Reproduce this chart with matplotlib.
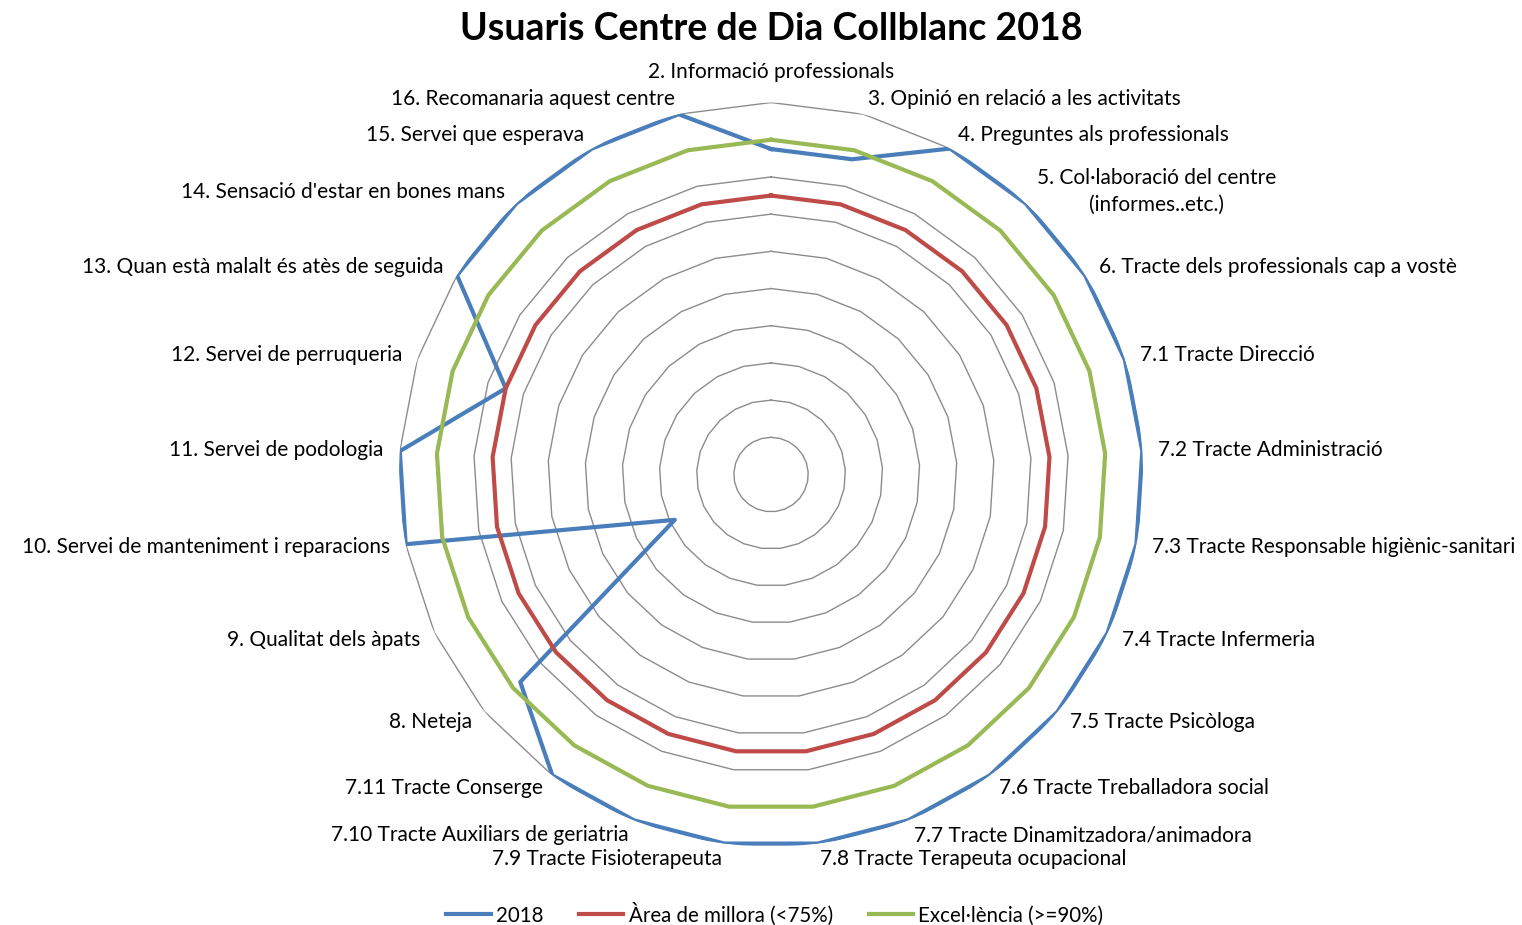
import matplotlib
matplotlib.use("Agg")
import matplotlib.pyplot as plt
import numpy as np

plt.rcParams['font.family'] = ['Lato', 'DejaVu Sans']

categories = [
    "2. Informació professionals",
    "3. Opinió en relació a les activitats",
    "4. Preguntes als professionals",
    "5. Col·laboració del centre\n(informes..etc.)",
    "6. Tracte dels professionals cap a vostè",
    "7.1 Tracte Direcció",
    "7.2 Tracte Administració",
    "7.3 Tracte Responsable higiènic-sanitari",
    "7.4 Tracte Infermeria",
    "7.5 Tracte Psicòloga",
    "7.6 Tracte Treballadora social",
    "7.7 Tracte Dinamitzadora/animadora",
    "7.8 Tracte Terapeuta ocupacional",
    "7.9 Tracte Fisioterapeuta",
    "7.10 Tracte Auxiliars de geriatria",
    "7.11 Tracte Conserge",
    "8. Neteja",
    "9. Qualitat dels àpats",
    "10. Servei de manteniment i reparacions",
    "11. Servei de podologia",
    "12. Servei de perruqueria",
    "13. Quan està malalt és atès de seguida",
    "14. Sensació d'estar en bones mans",
    "15. Servei que esperava",
    "16. Recomanaria aquest centre",
]
vals_2018 = [87.5, 87.5, 100, 100, 100, 100, 100, 100, 100, 100, 100, 100, 100,
             100, 100, 100, 87.5, 28.6, 100, 100, 75, 100, 100, 100, 100]
millora = [75] * len(categories)
excel = [90] * len(categories)
ring_levels = [10, 20, 30, 40, 50, 60, 70, 80, 90, 100]

n = len(categories)
theta = np.arange(n) * 2 * np.pi / n
theta_c = np.append(theta, theta[0])

fig = plt.figure(figsize=(15.22, 9.25), dpi=100)
ax = fig.add_axes([0.2622, 0.0848, 0.4888, 0.8044], projection='polar')
ax.set_theta_zero_location('N')
ax.set_theta_direction(-1)
ax.set_ylim(0, 100)
ax.grid(False)
ax.spines['polar'].set_visible(False)
ax.set_xticks([])
ax.set_yticks([])

for lv in ring_levels:
    ax.plot(theta_c, [lv] * (n + 1), color='#8C8C8C', lw=1.0, zorder=1)

ax.plot(theta_c, vals_2018 + vals_2018[:1], color='#4A7EBB', lw=3.0, label='2018', zorder=3)
ax.plot(theta_c, millora + millora[:1], color='#BE4B48', lw=3.0, label='Àrea de millora (<75%)', zorder=3)
ax.plot(theta_c, excel + excel[:1], color='#98B954', lw=3.0, label='Excel·lència (>=90%)', zorder=3)

# category labels just outside the outer ring
off = 11.5
fs = 15
for t, lab in zip(theta, categories):
    s, c = np.sin(t), np.cos(t)
    if abs(s) < 1e-6:
        ax.annotate(lab, xy=(t, 100), xytext=(0, 22), textcoords='offset points',
                    ha='center', va='center', fontsize=fs)
        continue
    ha = 'left' if s > 0 else 'right'
    ax.annotate(lab, xy=(t, 100), xytext=(off * s, off * c), textcoords='offset points',
                ha=ha, va='center', fontsize=fs, multialignment='center', linespacing=1.45)

fig.text(0.5066, 1 - 29 / 925, "Usuaris Centre de Dia Collblanc 2018",
         ha='center', va='center', fontsize=27, fontweight='bold')

fig.legend(loc='center', bbox_to_anchor=(0.509, 1 - 914 / 925), ncol=3, frameon=False,
           fontsize=14.8, handlelength=2.15, handletextpad=0.25, columnspacing=1.75)

fig.savefig('out.png', dpi=100)
